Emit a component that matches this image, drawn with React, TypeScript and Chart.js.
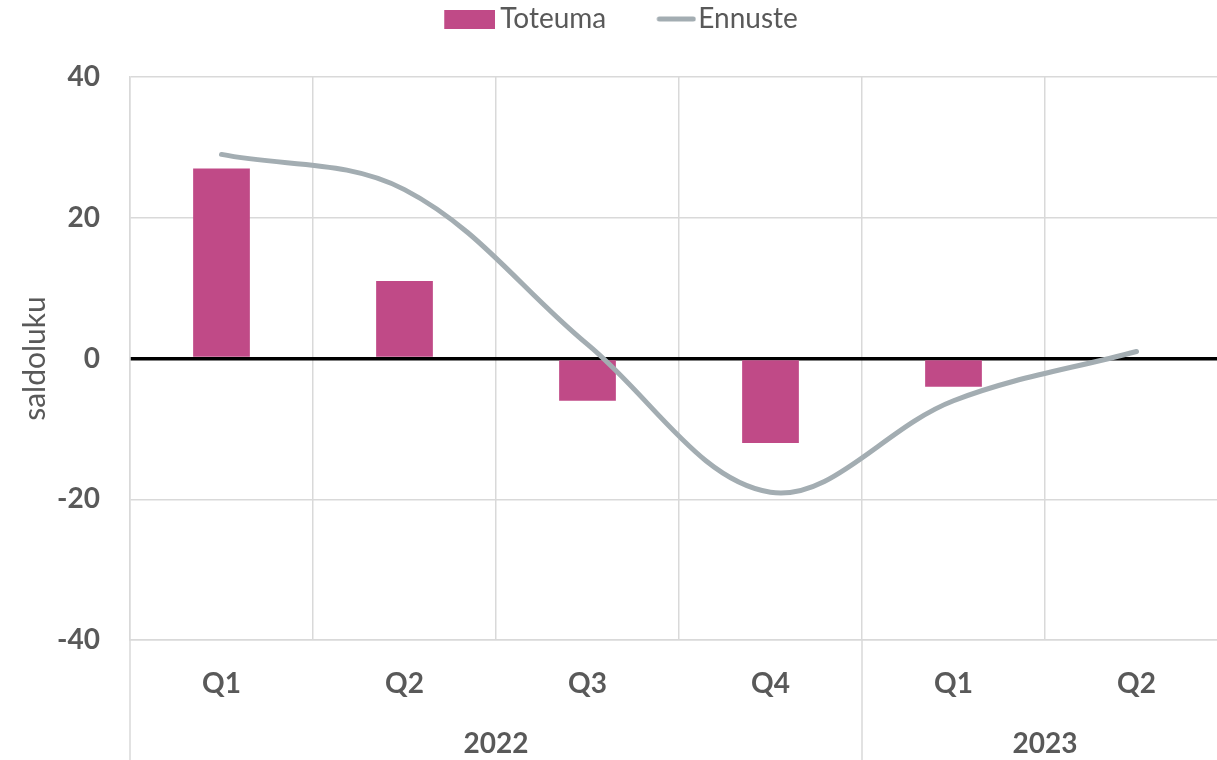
import React, { useEffect, useRef } from "react";
import { Chart, registerables } from "chart.js";

Chart.register(...registerables);

const categories = ["Q1", "Q2", "Q3", "Q4", "Q1", "Q2"];
const groupLabels = ["2022", "2023"];
const groupSizes = [4, 2];
const toteuma = [27, 11, -6, -12, -4, null];
const ennuste = [29, 24, 2, -19, -6, 1];
const yTicks = [-40, -20, 0, 20, 40];

const TEXT = "#595959";
const GRID = "#d9d9d9";
const BAR = "#c04a87";
const LINE = "#a3adb2";
const FONT = "Lato, 'Open Sans', sans-serif";

function makeRectIcon() {
  const c = document.createElement("canvas");
  c.width = 58;
  c.height = 19;
  const x = c.getContext("2d")!;
  x.fillStyle = BAR;
  x.fillRect(7, 0, 51, 19);
  return c;
}

function makeLineIcon() {
  const c = document.createElement("canvas");
  c.width = 64;
  c.height = 8;
  const x = c.getContext("2d")!;
  x.strokeStyle = LINE;
  x.lineWidth = 5;
  x.lineCap = "round";
  x.beginPath();
  x.moveTo(27, 4);
  x.lineTo(61, 4);
  x.stroke();
  return c;
}

const groupPlugin = {
  id: "groupLabels",
  afterDraw(chart: any) {
    const { ctx, chartArea } = chart;
    const xs = chart.scales.x;
    const step = xs.getPixelForValue(1) - xs.getPixelForValue(0);
    let idx = 0;
    const bottom = chart.height;
    ctx.save();
    ctx.strokeStyle = GRID;
    ctx.lineWidth = 1.5;
    const startX = xs.getPixelForValue(0) - step / 2;
    ctx.beginPath();
    ctx.moveTo(startX, chartArea.bottom);
    ctx.lineTo(startX, bottom);
    ctx.stroke();
    groupLabels.forEach((g, gi) => {
      const left = xs.getPixelForValue(idx) - step / 2;
      idx += groupSizes[gi];
      const right = xs.getPixelForValue(idx - 1) + step / 2;
      ctx.beginPath();
      ctx.moveTo(right, chartArea.bottom);
      ctx.lineTo(right, bottom);
      ctx.stroke();
      ctx.fillStyle = TEXT;
      ctx.font = `bold 28px ${FONT}`;
      ctx.textAlign = "center";
      ctx.textBaseline = "middle";
      ctx.fillText(g, (left + right) / 2, 744);
    });
    ctx.restore();
  },
};

export default function App() {
  const ref = useRef<HTMLCanvasElement>(null);
  useEffect(() => {
    if (!ref.current) return;
    const rectIcon = makeRectIcon();
    const lineIcon = makeLineIcon();
    const chart = new Chart(ref.current, {
      type: "bar",
      data: {
        labels: categories,
        datasets: [
          {
            type: "line",
            label: "Ennuste",
            data: ennuste,
            borderColor: LINE,
            backgroundColor: LINE,
            borderWidth: 5,
            borderCapStyle: "round",
            pointRadius: 0,
            tension: 0.36,
            order: 0,
          } as any,
          {
            type: "bar",
            label: "Toteuma",
            data: toteuma,
            backgroundColor: BAR,
            categoryPercentage: 1,
            barPercentage: 0.31,
            order: 1,
          } as any,
        ],
      },
      options: {
        responsive: false,
        animation: false,
        layout: { padding: { top: -33, right: 0, left: 16, bottom: 0 } },
        plugins: {
          tooltip: { enabled: false },
          subtitle: {
            display: true,
            text: "",
            weight: 500,
            font: { size: 10 },
            padding: { top: 0, bottom: 22 },
          } as any,
          legend: {
            position: "top",
            labels: {
              usePointStyle: true,
              pointStyleWidth: 40,
              boxHeight: 18,
              padding: 38,
              color: TEXT,
              font: { family: FONT, size: 28 },
              generateLabels: () => [
                {
                  text: "Toteuma",
                  fillStyle: BAR,
                  strokeStyle: BAR,
                  lineWidth: 0,
                  pointStyle: rectIcon,
                  datasetIndex: 1,
                  fontColor: TEXT,
                },
                {
                  text: "Ennuste",
                  fillStyle: LINE,
                  strokeStyle: LINE,
                  lineWidth: 0,
                  pointStyle: lineIcon,
                  datasetIndex: 0,
                  fontColor: TEXT,
                },
              ],
            },
          },
        },
        scales: {
          x: {
            offset: true,
            grid: {
              offset: true,
              color: GRID,
              lineWidth: 1.5,
              drawTicks: false,
            },
            border: { color: GRID, width: 1.5 },
            ticks: {
              color: TEXT,
              font: { family: FONT, size: 28, weight: "bold" },
              padding: 27,
              maxRotation: 0,
            },
            afterFit: (s: any) => {
              s.height = 120;
            },
          },
          y: {
            min: -40,
            max: 40,
            afterBuildTicks: (s: any) => {
              s.ticks = yTicks.map((v) => ({ value: v }));
            },
            grid: {
              color: (c: any) => (c.tick && c.tick.value === 0 ? "#000" : GRID),
              lineWidth: (c: any) => (c.tick && c.tick.value === 0 ? 3.5 : 1.5),
              drawTicks: false,
            },
            border: { color: GRID, width: 1.5 },
            ticks: {
              color: TEXT,
              font: { family: FONT, size: 28, weight: "bold" },
              padding: 30,
            },
            title: {
              display: true,
              text: "saldoluku",
              color: TEXT,
              font: { family: FONT, size: 30 },
              padding: { top: 1, bottom: 0 },
            },
            afterFit: (s: any) => {
              s.width = 114;
            },
          },
        },
      },
      plugins: [groupPlugin],
    });
    return () => chart.destroy();
  }, []);
  return (
    <div
      style={{
        position: "absolute",
        left: 0,
        top: 0,
        width: 1217,
        height: 760,
        overflow: "hidden",
        background: "#fff",
      }}
    >
      <canvas ref={ref} width={1228} height={760} style={{ width: 1228, height: 760, display: "block" }} />
    </div>
  );
}
